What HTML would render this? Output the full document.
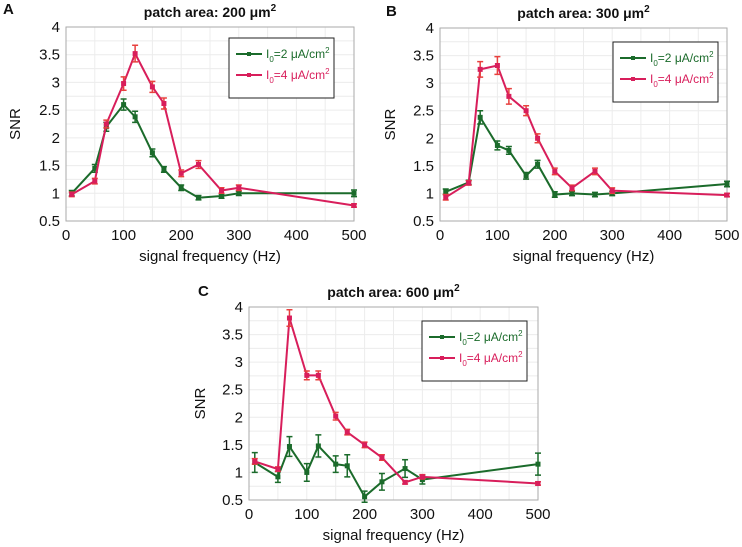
<!DOCTYPE html>
<html><head><meta charset="utf-8"><style>
body{margin:0;background:#fff;}
svg{display:block;font-family:"Liberation Sans",Arial,sans-serif;}
</style></head><body>
<svg id="fig" width="742" height="547" viewBox="0 0 742 547"></svg>
<script>
const freqs=[10,50,70,100,120,150,170,200,230,270,300,500];
const xTicks=[0,100,200,300,400,500];
const yTicks=[0.5,1,1.5,2,2.5,3,3.5,4];
const yTickLabels=["0.5","1","1.5","2","2.5","3","3.5","4"];
const aGreen=[1.0,1.45,2.2,2.6,2.38,1.73,1.43,1.1,0.92,0.95,1.0,1.0];
const aGreenErr=[0.05,0.07,0.08,0.1,0.1,0.07,0.05,0.05,0.04,0.04,0.04,0.06];
const aRed=[0.98,1.22,2.25,2.98,3.52,2.92,2.62,1.36,1.52,1.05,1.1,0.78];
const aRedErr=[0.04,0.05,0.07,0.12,0.15,0.1,0.1,0.06,0.07,0.05,0.05,0.03];
const bGreen=[1.03,1.2,2.38,1.87,1.78,1.32,1.53,0.98,1.0,0.98,1.0,1.17];
const bGreenErr=[0.05,0.04,0.12,0.08,0.07,0.06,0.07,0.05,0.04,0.04,0.04,0.05];
const bRed=[0.93,1.19,3.25,3.32,2.76,2.5,2.0,1.4,1.1,1.4,1.05,0.97];
const bRedErr=[0.05,0.04,0.14,0.16,0.14,0.09,0.08,0.06,0.05,0.06,0.05,0.03];
const cGreen=[1.18,0.92,1.47,1.0,1.48,1.15,1.12,0.56,0.83,1.07,0.87,1.15];
const cGreenErr=[0.18,0.1,0.18,0.16,0.2,0.15,0.2,0.1,0.15,0.16,0.08,0.2];
const cRed=[1.2,1.06,3.8,2.76,2.76,2.02,1.73,1.5,1.27,0.82,0.92,0.8];
const cRedErr=[0.05,0.04,0.15,0.08,0.08,0.07,0.05,0.05,0.05,0.03,0.04,0.03];

const NS="http://www.w3.org/2000/svg";
const svg=document.getElementById('fig');
function mk(tag,attrs,parent,text){const e=document.createElementNS(NS,tag);for(const k in attrs)e.setAttribute(k,attrs[k]);if(text!==undefined)e.textContent=text;(parent||svg).appendChild(e);return e;}
const GREEN="#1b6b2b",RED="#d81e5b",REDERR="#e8403e";

function panel(cfg){
  const g=mk('g',{});
  
  
  const L=cfg.l,R=cfg.r,T=cfg.t,B=cfg.b;
  const sx=v=>L+(v-0)/(500-0)*(R-L);
  const sy=v=>B-(v-0.5)/(4-0.5)*(B-T);
  // grid
  for(let v=50;v<=500;v+=50){const x=sx(v);const ln=mk('line',{x1:x,x2:x,y1:T,y2:B,stroke:"#ececec","stroke-width":1},g);}
  for(let v=0.75;v<4;v+=0.25){const y=sy(v);const ln=mk('line',{x1:L,x2:R,y1:y,y2:y,stroke:"#ececec","stroke-width":1},g);}
  const fr=mk('rect',{x:L,y:T,width:R-L,height:B-T,fill:"none",stroke:"#aaa","stroke-width":1},g);
  
  xTicks.forEach(v=>{const t=mk('text',{x:sx(v),y:B+19,"text-anchor":"middle","font-size":15,fill:"#111"},g,String(v));});
  yTicks.forEach((v,i)=>{const t=mk('text',{x:L-6,y:sy(v)+5,"text-anchor":"end","font-size":15,fill:"#111"},g,yTickLabels[i]);});
  const yt=mk('text',{x:cfg.ylx,y:(T+B)/2,"text-anchor":"middle","font-size":15,fill:"#111",transform:`rotate(-90 ${cfg.ylx} ${(T+B)/2})`},g,"SNR");
  
  const xt=mk('text',{x:(L+R)/2,y:B+40,"text-anchor":"middle","font-size":15,fill:"#111"},g,"signal frequency (Hz)");
  
  const title=mk('text',{x:(L+R)/2,y:T-10,"text-anchor":"middle","font-size":14,"font-weight":"bold",fill:"#111"},g);
  
  title.innerHTML=`patch area: ${cfg.area} μm<tspan dy="-6" font-size="10">2</tspan>`;
  const lab=mk('text',{x:cfg.labx,y:cfg.laby,"font-size":15,"font-weight":"bold",fill:"#111"},g,cfg.id.toUpperCase());
  
  function series(vals,errs,col,ecol,name){
    const pts=freqs.map((f,i)=>sx(f)+","+sy(vals[i])).join(" ");
    const pl=mk('polyline',{points:pts,fill:"none",stroke:col,"stroke-width":2},g);
    
    freqs.forEach((f,i)=>{
      const x=sx(f),y1=sy(vals[i]-errs[i]),y2=sy(vals[i]+errs[i]);
      const e=mk('path',{d:`M${x},${y1}V${y2}M${x-3},${y1}H${x+3}M${x-3},${y2}H${x+3}`,stroke:ecol,"stroke-width":1.5,fill:"none"},g);
      
      const m=mk('rect',{x:x-2.5,y:sy(vals[i])-2.5,width:5,height:5,fill:col},g);
      
    });
  }
  series(cfg.g,cfg.ge,GREEN,GREEN,'series-i0-2');
  series(cfg.r2,cfg.re,RED,REDERR,'series-i0-4');
  // legend
  const lg=mk('g',{},g);
  const lx=cfg.lgx,ly=cfg.lgy;
  mk('rect',{x:lx,y:ly,width:105,height:60,fill:"#fff",stroke:"#222","stroke-width":1},lg);
  [[GREEN,"2",ly+20],[RED,"4",ly+41]].forEach(([c,n,yy])=>{
    const e=mk('g',{},lg);
    mk('line',{x1:lx+7,x2:lx+33,y1:yy-4,y2:yy-4,stroke:c,"stroke-width":2},e);
    mk('rect',{x:lx+18,y:yy-6,width:4,height:4,fill:c},e);
    const t=mk('text',{x:lx+37,y:yy,"font-size":12,fill:c},e);
    t.innerHTML=`I<tspan dy="4" font-size="8">0</tspan><tspan dy="-4">=${n} μA/cm</tspan><tspan dy="-5" font-size="8">2</tspan>`;
  });
}
panel({id:'a',area:200,l:66,r:354,t:27,b:221,ylx:20,labx:3,laby:14,g:aGreen,ge:aGreenErr,r2:aRed,re:aRedErr,lgx:229,lgy:38});
panel({id:'b',area:300,l:440,r:727,t:28,b:221,ylx:395,labx:386,laby:16,g:bGreen,ge:bGreenErr,r2:bRed,re:bRedErr,lgx:613,lgy:42});
panel({id:'c',area:600,l:249,r:538,t:307,b:500,ylx:205,labx:198,laby:296,g:cGreen,ge:cGreenErr,r2:cRed,re:cRedErr,lgx:422,lgy:321});
</script>
</body></html>
